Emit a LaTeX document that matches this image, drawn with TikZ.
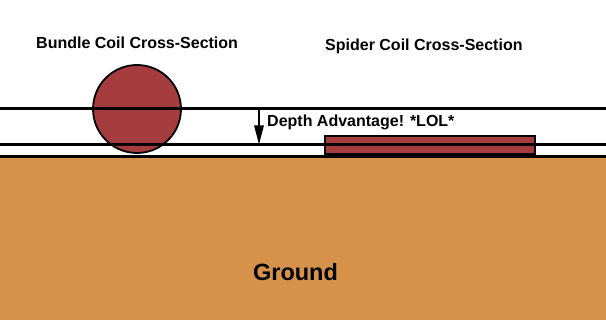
\documentclass[tikz,border=0pt]{standalone}
\usepackage{fontspec}
\setmainfont{Liberation Sans}
\usetikzlibrary{arrows.meta}
\definecolor{coilred}{RGB}{165,61,63}
\definecolor{groundc}{RGB}{214,146,74}
\tikzset{
  layer/.style={line width=3pt, black},
  coil/.style={fill=coilred, draw=black, line width=1.8pt},
  lbl/.style={font=\bfseries\fontsize{16}{18}\selectfont, inner sep=0pt, anchor=base west},
}
\begin{document}
\begin{tikzpicture}[x=1pt,y=-1pt]
\useasboundingbox (0,0) rectangle (606,320);
% ground
\fill[groundc] (0,157) rectangle (606,320);
% coils
\node[coil, circle, minimum size=88pt, inner sep=0pt] (bundle) at (137,109) {};
\node[coil, rectangle, minimum width=210pt, minimum height=18pt, inner sep=0pt] (spider) at (430,145) {};
% layers
\coordinate (l1a) at (0,109); \coordinate (l1b) at (606,109);
\coordinate (l2a) at (0,145); \coordinate (l2b) at (606,145);
\coordinate (l3a) at (0,157); \coordinate (l3b) at (606,157);
\draw[layer] (l1a) -- (l1b);
\draw[layer] (l2a) -- (l2b);
\draw[layer] (l3a) -- (l3b);
% depth arrow
\coordinate (dtop) at (259,110);
\coordinate (dbot) at (259,144.5);
\draw[line width=1.4pt, -{Triangle[length=19pt,width=9.5pt]}] (dtop) -- (dbot);
% labels
\node[lbl] (t1) at (36,49) {Bundle Coil Cross-Section};
\node[lbl] (t2) at (325,50.7) {Spider Coil Cross-Section};
\node[lbl] (depth) at (267,126.5) {Depth Advantage! *LOL*};
\node[font=\bfseries\fontsize{23.5}{26}\selectfont, inner sep=0pt, anchor=base] (ground) at (295.5,281) {Ground};
\end{tikzpicture}
\end{document}
